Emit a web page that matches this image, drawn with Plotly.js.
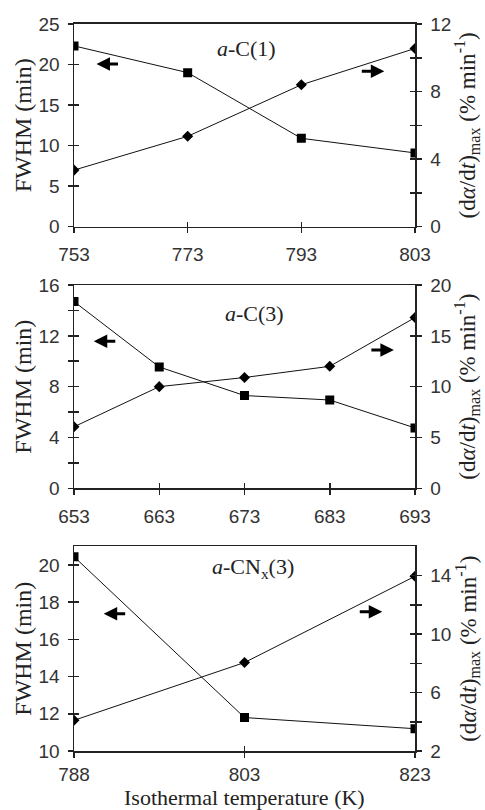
<!DOCTYPE html>
<html><head><meta charset="utf-8">
<script src="https://cdn.plot.ly/plotly-3.0.1.min.js"></script>
<style>html,body{margin:0;padding:0;background:#fff}#c{width:485px;height:810px}</style>
</head><body><div id="c"></div>
<script>
// ---- data ----
const temps1 = ['753', '773', '793', '803'];
const fwhm1 = [22.3, 19.0, 10.9, 9.1];
const rate1 = [3.35, 5.35, 8.4, 10.55];

const temps2 = ['653', '663', '673', '683', '693'];
const fwhm2 = [14.7, 9.55, 7.3, 6.95, 4.75];
const rate2 = [6.05, 10.0, 10.9, 12.0, 16.8];

const temps3 = ['788', '803', '823'];
const fwhm3 = [20.45, 11.8, 11.2];
const rate3 = [4.1, 8.05, 13.95];

const panelLabels = ['<i>a</i>-C(1)', '<i>a</i>-C(3)', '<i>a</i>-CN<sub>x</sub>(3)'];
const leftTitle = 'FWHM (min)';
const rightTitle = '(d<i>α</i>/d<i>t</i>)<sub>max</sub> (% min<sup>-1</sup>)';
const xTitle = 'Isothermal temperature (K)';

// ---- styles ----
const tickFont = {family: 'Liberation Sans, Arial, sans-serif', size: 19, color: '#333'};
const serif = 'Liberation Serif, Times New Roman, serif';
const leftTitleFont = {family: serif, size: 24, color: '#222'};
const rightTitleFont = {family: serif, size: 23, color: '#222'};
const xTitleFont = {family: serif, size: 22, color: '#222'};
const LW = 1.5, TL = 5;

const panels = [
  {t: temps1, f: fwhm1, r: rate1, yL: [0, 25], dL: 5, mL: null, t0L: 0, yR: [0, 12], dR: 4, mR: 2, t0R: 0,
   dom: [0.7201, 0.9704], lab: [0.505, 0.88], arrL: [0.066, 0.803], arrR: [0.91, 0.767], xs: 5},
  {t: temps2, f: fwhm2, r: rate2, yL: [0, 16], dL: 4, mL: 2, t0L: 0, yR: [0, 20], dR: 5, mR: null, t0R: 0,
   dom: [0.3972, 0.6481], lab: [0.529, 0.861], arrL: [0.058, 0.724], arrR: [0.938, 0.68], xs: 5},
  {t: temps3, f: fwhm3, r: rate3, yL: [10, 21], dL: 2, mL: null, t0L: 10, yR: [2, 15.99], dR: 4, mR: 2, t0R: 2,
   dom: [0.0728, 0.3254], lab: [0.524, 0.893], arrL: [0.087, 0.671], arrR: [0.904, 0.681], xs: 1}
];

const data = [];
const layout = {
  width: 485, height: 810,
  margin: {l: 74, r: 70, t: 0, b: 0},
  paper_bgcolor: '#fff', plot_bgcolor: 'rgba(0,0,0,0)',
  showlegend: false,
  annotations: [],
  font: {family: serif, color: '#222'}
};

function yAx(p, side, range, dtick, minor, t0, anchor, overlay, inside, title, tfont) {
  const a = {
    domain: p.dom, range: range, anchor: anchor, side: side,
    tick0: t0, dtick: dtick,
    ticks: inside ? 'inside' : 'outside', ticklen: TL, tickwidth: LW, tickcolor: '#222',
    showgrid: false, zeroline: false,
    showline: !inside, linewidth: LW, linecolor: '#222',
    showticklabels: !inside, tickfont: tickFont, ticklabelstandoff: side === 'left' ? 4 : 5,
    fixedrange: true
  };
  if (overlay) a.overlaying = overlay;
  if (minor) a.minor = {dtick: minor, tick0: t0, ticks: inside ? 'inside' : 'outside', ticklen: TL, tickwidth: LW, tickcolor: '#222', showgrid: false};
  if (title) a.title = {text: title, font: tfont, standoff: side === 'left' ? 0 : 6};
  return a;
}

panels.forEach((p, i) => {
  const xi = i + 1;
  const yl = 2 * i + 1, yr = 2 * i + 2;
  const xd = 4 + i;
  const ydl = 7 + 2 * i, ydr = 8 + 2 * i;
  const xn = xi === 1 ? 'x' : 'x' + xi;
  const yln = yl === 1 ? 'y' : 'y' + yl;
  const yrn = 'y' + yr;
  const n = p.t.length;

  data.push({type: 'scatter', mode: 'lines+markers', x: p.t, y: p.f, xaxis: xn, yaxis: yln,
    line: {color: '#111', width: 1}, marker: {symbol: 'square', size: 9, color: '#000'}, hoverinfo: 'skip'});
  data.push({type: 'scatter', mode: 'lines+markers', x: p.t, y: p.r, xaxis: xn, yaxis: yrn,
    line: {color: '#111', width: 1}, marker: {symbol: 'diamond', size: 8.5, color: '#000'}, hoverinfo: 'skip'});
  data.push({type: 'scatter', x: [], y: [], xaxis: xn, yaxis: 'y' + ydl, hoverinfo: 'skip'});
  data.push({type: 'scatter', x: [], y: [], xaxis: xn, yaxis: 'y' + ydr, hoverinfo: 'skip'});
  data.push({type: 'scatter', x: [], y: [], xaxis: 'x' + xd, yaxis: yln, hoverinfo: 'skip'});

  const xa = {
    type: 'category', categoryorder: 'array', categoryarray: p.t,
    domain: [0, 1], range: [0, n - 1], anchor: yln,
    ticks: 'outside', ticklen: TL, tickwidth: LW, tickcolor: '#222',
    showline: true, mirror: true, linewidth: LW, linecolor: '#222',
    showgrid: false, zeroline: false, tickfont: tickFont, ticklabelstandoff: p.xs, fixedrange: true
  };
  layout[xi === 1 ? 'xaxis' : 'xaxis' + xi] = xa;
  layout['xaxis' + xd] = {
    type: 'linear', domain: [0, 1], range: [0, n - 1], anchor: yln, overlaying: xn, side: 'bottom',
    tick0: 0, dtick: 1, ticks: 'inside', ticklen: TL, tickwidth: LW, tickcolor: '#222',
    showline: false, showgrid: false, zeroline: false, showticklabels: false, fixedrange: true
  };

  layout[yl === 1 ? 'yaxis' : 'yaxis' + yl] = yAx(p, 'left', p.yL, p.dL, p.mL, p.t0L, xn, null, false, leftTitle, leftTitleFont);
  layout['yaxis' + yr] = yAx(p, 'right', p.yR, p.dR, p.mR, p.t0R, xn, yln, false, rightTitle, rightTitleFont);
  layout['yaxis' + ydl] = yAx(p, 'left', p.yL, p.dL, p.mL, p.t0L, xn, yln, true, null);
  layout['yaxis' + ydr] = yAx(p, 'right', p.yR, p.dR, p.mR, p.t0R, xn, yln, true, null);

  const xdom = xn + ' domain', ydom = yln + ' domain';
  layout.annotations.push({xref: xdom, yref: ydom, x: p.lab[0], y: p.lab[1], text: panelLabels[i],
    showarrow: false, font: {family: serif, size: 22, color: '#222'}, xanchor: 'center', yanchor: 'middle'});
  layout.annotations.push({xref: xdom, yref: ydom, x: p.arrL[0], y: p.arrL[1], ax: 23, ay: 0, text: '',
    showarrow: true, arrowhead: 2, arrowsize: 0.9, arrowwidth: 3, arrowcolor: '#000'});
  layout.annotations.push({xref: xdom, yref: ydom, x: p.arrR[0], y: p.arrR[1], ax: -24, ay: 0, text: '',
    showarrow: true, arrowhead: 2, arrowsize: 0.9, arrowwidth: 3, arrowcolor: '#000'});
});

// shared x-axis title under the bottom panel
layout.annotations.push({xref: 'x3 domain', yref: 'paper', x: 0.5, y: 0.0155, text: xTitle,
  showarrow: false, font: xTitleFont, xanchor: 'center', yanchor: 'middle'});

Plotly.newPlot('c', data, layout, {staticPlot: true, displayModeBar: false});
</script>
</body></html>
